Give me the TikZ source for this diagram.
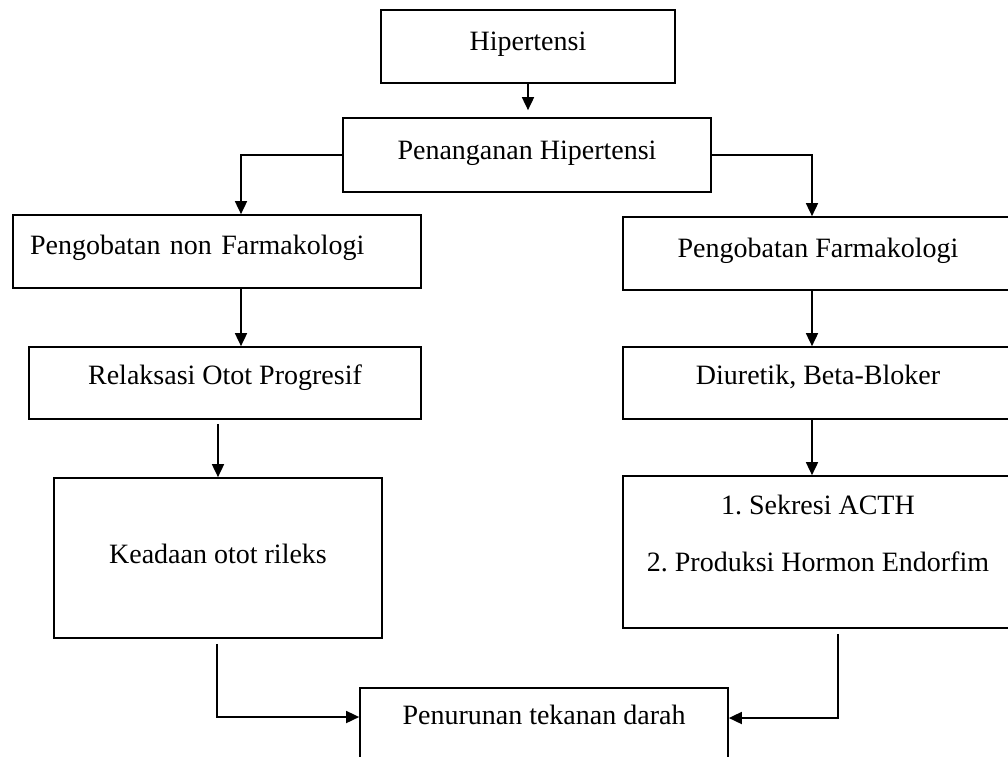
\documentclass[tikz,border=0pt]{standalone}
\usepackage{fontspec}
\setmainfont{Liberation Serif}
\usetikzlibrary{arrows.meta}

\begin{document}
\begin{tikzpicture}[x=1pt, y=-1pt, line width=1.7pt,
    box/.style={draw, rectangle, inner sep=0pt, font=\fontsize{28}{34}\selectfont\frenchspacing},
    oneline/.style={text height=19pt, text depth=#1},
    flow/.style={-{Triangle[length=13pt, width=12pt]}}]
  \useasboundingbox (0,0) rectangle (1008,756);
  \clip (0,0) rectangle (1008,756);

  % Top
  \node[box, oneline=12pt, minimum width=294pt, minimum height=73pt] (hip) at (528,46.5) {Hipertensi};
  \node[box, oneline=10pt, minimum width=368pt, minimum height=74pt] (tangani) at (527,155) {Penanganan Hipertensi};

  % Left branch
  \node[box, oneline=13pt, minimum height=73pt, align=left, text width=374pt, inner xsep=17pt] (nonfarm) at (217,251.5) {Pengobatan non Farmakologi};
  \node[box, oneline=16pt, minimum width=392pt, minimum height=72pt] (relaksasi) at (225,383) {Relaksasi Otot Progresif};
  \node[box, oneline=8pt, minimum width=328pt, minimum height=160pt] (rileks) at (218,558) {Keadaan otot rileks};

  % Right branch
  \node[box, oneline=11pt, minimum width=390pt, minimum height=73pt] (farm) at (818,253.5) {Pengobatan Farmakologi};
  \node[box, oneline=16pt, minimum width=390pt, minimum height=72pt] (diuretik) at (818,383) {Diuretik, Beta-Bloker};
  \node[box, align=center, minimum width=390pt, minimum height=152pt] (acth) at (818,552)
    {1. Sekresi ACTH\\[23pt]2. Produksi Hormon Endorfim\rule[-37pt]{0pt}{0pt}};

  % Bottom
  \node[box, oneline=19pt, minimum width=368pt, minimum height=73pt] (turun) at (544,724.5) {Penurunan tekanan darah};

  \draw[flow, shorten >=7pt] (hip.south) -- (hip.south |- tangani.north);
  \draw[flow] (tangani.west) -| ([xshift=24pt]nonfarm.north);
  \draw[flow] (tangani.east) -| ([xshift=-6pt]farm.north);

  \draw[flow] ([xshift=24pt]nonfarm.south) -- ([xshift=24pt]nonfarm.south |- relaksasi.north);
  \draw[flow, shorten <=4pt] (relaksasi.south -| rileks.north) -- (rileks.north);

  \draw[flow] ([xshift=-6pt]farm.south) -- ([xshift=-6pt]farm.south |- diuretik.north);
  \draw[flow] ([xshift=-6pt]diuretik.south) -- ([xshift=-6pt]acth.north);

  \draw[flow, shorten <=5pt] ([xshift=-1pt]rileks.south) |- ([yshift=7.5pt]turun.west);
  \draw[flow, shorten <=5pt] ([xshift=20pt]acth.south) |- ([yshift=6.5pt]turun.east);
\end{tikzpicture}
\end{document}
